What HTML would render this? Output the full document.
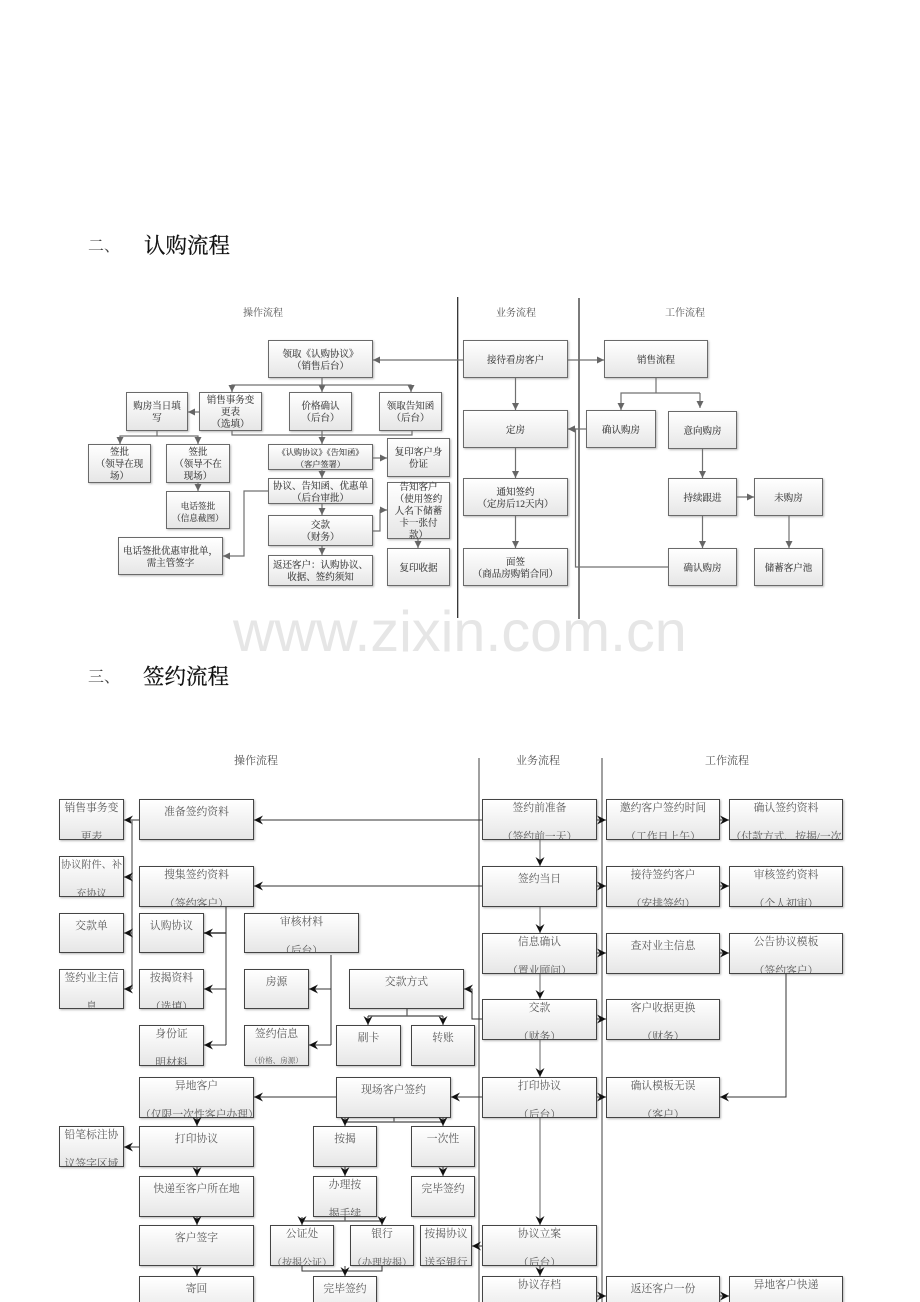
<!DOCTYPE html>
<html lang="zh">
<head>
<meta charset="utf-8">
<title>认购流程 / 签约流程</title>
<style>
html,body{margin:0;padding:0;background:#fff}
#p{position:relative;width:920px;height:1302px;overflow:hidden;background:#fff;font-family:"Liberation Serif","Noto Serif CJK SC",serif}
.a,.c{position:absolute;box-sizing:border-box;background:linear-gradient(#fff,#e6e6e6);box-shadow:1px 1px 2px rgba(0,0,0,.28);text-align:center;filter:blur(.25px)}
.a{border:1px solid #6a6a6a;display:flex;align-items:center;justify-content:center;font-size:9.5px;line-height:12px;color:#3c3c3c;white-space:nowrap;padding-top:3px;-webkit-text-stroke:.12px #3c3c3c}
.c{border:1px solid #444;overflow:hidden;font-size:10.8px;color:#5a5a5a;white-space:nowrap}
.c div{line-height:29px}
.t2{margin-top:-6.5px}
.t1{margin-top:-2.5px}
.l{position:absolute;font-size:10px;color:#555;transform:translateX(-50%);line-height:12px;white-space:nowrap}
.h{position:absolute;font-size:21.5px;line-height:26px;color:#111;white-space:nowrap;-webkit-text-stroke:.25px #111}
.h0{position:absolute;font-size:16px;line-height:26px;color:#444;white-space:nowrap}
svg{position:absolute;left:0;top:0}
#w{position:absolute;left:233px;top:597px;font-family:"Liberation Sans",sans-serif;font-size:57.5px;line-height:70px;color:#e6e6e6;white-space:nowrap}
</style>
</head>
<body>
<div id="p">
<div class="h0" style="left:88px;top:234px">二、</div>
<div class="h" style="left:144px;top:233px">认购流程</div>
<div class="h0" style="left:88px;top:665px">三、</div>
<div class="h" style="left:143px;top:664px">签约流程</div>

<div class="l" style="left:263px;top:308px">操作流程</div>
<div class="l" style="left:516px;top:308px">业务流程</div>
<div class="l" style="left:685px;top:308px">工作流程</div>
<div class="l" style="left:256px;top:755px;font-size:11px">操作流程</div>
<div class="l" style="left:538px;top:755px;font-size:11px">业务流程</div>
<div class="l" style="left:727px;top:755px;font-size:11px">工作流程</div>

<!-- section 1 boxes -->
<div class="a" style="left:268px;top:340px;width:105px;height:38px">领取《认购协议》<br>（销售后台）</div>
<div class="a" style="left:126px;top:392px;width:62px;height:39px">购房当日填<br>写</div>
<div class="a" style="left:199px;top:392px;width:63px;height:39px">销售事务变<br>更表<br>（选填）</div>
<div class="a" style="left:289px;top:392px;width:63px;height:39px">价格确认<br>（后台）</div>
<div class="a" style="left:379px;top:392px;width:63px;height:39px">领取告知函<br>（后台）</div>
<div class="a" style="left:88px;top:444px;width:63px;height:39px">签批<br>（领导在现<br>场）</div>
<div class="a" style="left:166px;top:444px;width:64px;height:39px">签批<br>（领导不在<br>现场）</div>
<div class="a" style="left:166px;top:491px;width:64px;height:38px;font-size:8.6px">电话签批<br>（信息截图）</div>
<div class="a" style="left:268px;top:444px;width:105px;height:26px;font-size:8.2px">《认购协议》《告知函》<br>（客户签署）</div>
<div class="a" style="left:268px;top:478px;width:105px;height:26px">协议、告知函、优惠单<br>（后台审批）</div>
<div class="a" style="left:268px;top:515px;width:105px;height:31px">交款<br>（财务）</div>
<div class="a" style="left:268px;top:555px;width:105px;height:31px">返还客户：认购协议、<br>收据、签约须知</div>
<div class="a" style="left:387px;top:438px;width:63px;height:39px">复印客户身<br>份证</div>
<div class="a" style="left:387px;top:482px;width:63px;height:57px">告知客户<br>（使用签约<br>人名下储蓄<br>卡一张付<br>款）</div>
<div class="a" style="left:387px;top:548px;width:63px;height:38px">复印收据</div>
<div class="a" style="left:118px;top:537px;width:105px;height:38px">电话签批优惠审批单，<br>需主管签字</div>
<div class="a" style="left:463px;top:340px;width:105px;height:38px">接待看房客户</div>
<div class="a" style="left:463px;top:410px;width:105px;height:38px">定房</div>
<div class="a" style="left:463px;top:478px;width:105px;height:38px">通知签约<br>（定房后12天内）</div>
<div class="a" style="left:463px;top:548px;width:105px;height:38px">面签<br>（商品房购销合同）</div>
<div class="a" style="left:604px;top:340px;width:104px;height:38px">销售流程</div>
<div class="a" style="left:586px;top:410px;width:70px;height:38px">确认购房</div>
<div class="a" style="left:668px;top:411px;width:69px;height:38px">意向购房</div>
<div class="a" style="left:668px;top:478px;width:69px;height:38px">持续跟进</div>
<div class="a" style="left:754px;top:478px;width:69px;height:38px">未购房</div>
<div class="a" style="left:668px;top:548px;width:69px;height:38px">确认购房</div>
<div class="a" style="left:754px;top:548px;width:69px;height:38px">储蓄客户池</div>

<!-- section 2 boxes -->
<div class="c" style="left:59px;top:799px;width:65px;height:41px"><div class="t2">销售事务变<br>更表</div></div>
<div class="c" style="left:59px;top:856px;width:65px;height:41px"><div class="t2" style="font-size:10.2px">协议附件、补<br>充协议</div></div>
<div class="c" style="left:59px;top:913px;width:65px;height:40px"><div class="t1">交款单</div></div>
<div class="c" style="left:59px;top:969px;width:65px;height:40px"><div class="t2">签约业主信<br>息</div></div>
<div class="c" style="left:139px;top:799px;width:115px;height:41px"><div class="t1">准备签约资料</div></div>
<div class="c" style="left:139px;top:866px;width:115px;height:41px"><div class="t2">搜集签约资料<br>（签约客户）</div></div>
<div class="c" style="left:139px;top:913px;width:65px;height:40px"><div class="t1">认购协议</div></div>
<div class="c" style="left:139px;top:969px;width:65px;height:40px"><div class="t2">按揭资料<br>（选填）</div></div>
<div class="c" style="left:139px;top:1025px;width:65px;height:41px"><div class="t2">身份证<br>明材料</div></div>
<div class="c" style="left:244px;top:913px;width:115px;height:40px"><div class="t2">审核材料<br>（后台）</div></div>
<div class="c" style="left:244px;top:969px;width:65px;height:40px"><div class="t1">房源</div></div>
<div class="c" style="left:244px;top:1025px;width:65px;height:41px"><div class="t2">签约信息<br><span style="font-size:7.5px;position:relative;top:-3px">（价格、房源）</span></div></div>
<div class="c" style="left:349px;top:969px;width:115px;height:40px"><div class="t1">交款方式</div></div>
<div class="c" style="left:336px;top:1025px;width:65px;height:41px"><div class="t1">刷卡</div></div>
<div class="c" style="left:411px;top:1025px;width:64px;height:41px"><div class="t1">转账</div></div>
<div class="c" style="left:139px;top:1077px;width:115px;height:41px"><div class="t2">异地客户<br>（仅限一次性客户办理）</div></div>
<div class="c" style="left:59px;top:1126px;width:65px;height:41px"><div class="t2">铅笔标注协<br>议签字区域</div></div>
<div class="c" style="left:139px;top:1126px;width:115px;height:41px"><div class="t1">打印协议</div></div>
<div class="c" style="left:139px;top:1176px;width:115px;height:41px"><div class="t1">快递至客户所在地</div></div>
<div class="c" style="left:139px;top:1225px;width:115px;height:41px"><div class="t1">客户签字</div></div>
<div class="c" style="left:139px;top:1276px;width:115px;height:41px"><div class="t1">寄回</div></div>
<div class="c" style="left:336px;top:1077px;width:115px;height:41px"><div class="t1">现场客户签约</div></div>
<div class="c" style="left:313px;top:1126px;width:64px;height:41px"><div class="t1">按揭</div></div>
<div class="c" style="left:411px;top:1126px;width:64px;height:41px"><div class="t1">一次性</div></div>
<div class="c" style="left:313px;top:1176px;width:64px;height:41px"><div class="t2">办理按<br>揭手续</div></div>
<div class="c" style="left:411px;top:1176px;width:64px;height:41px"><div class="t1">完毕签约</div></div>
<div class="c" style="left:270px;top:1225px;width:64px;height:41px"><div class="t2">公证处<br><span style="font-size:10px">（按揭公证）</span></div></div>
<div class="c" style="left:350px;top:1225px;width:64px;height:41px"><div class="t2">银行<br><span style="font-size:10px">（办理按揭）</span></div></div>
<div class="c" style="left:420px;top:1225px;width:52px;height:41px"><div class="t2">按揭协议<br>送至银行</div></div>
<div class="c" style="left:313px;top:1276px;width:64px;height:41px"><div class="t1">完毕签约</div></div>
<div class="c" style="left:482px;top:799px;width:115px;height:41px"><div class="t2">签约前准备<br>（签约前一天）</div></div>
<div class="c" style="left:482px;top:866px;width:115px;height:41px"><div class="t1">签约当日</div></div>
<div class="c" style="left:482px;top:933px;width:115px;height:41px"><div class="t2">信息确认<br>（置业顾问）</div></div>
<div class="c" style="left:482px;top:999px;width:115px;height:41px"><div class="t2">交款<br>（财务）</div></div>
<div class="c" style="left:482px;top:1077px;width:115px;height:41px"><div class="t2">打印协议<br>（后台）</div></div>
<div class="c" style="left:482px;top:1225px;width:115px;height:41px"><div class="t2">协议立案<br>（后台）</div></div>
<div class="c" style="left:482px;top:1276px;width:115px;height:41px"><div class="t2">协议存档</div></div>
<div class="c" style="left:606px;top:799px;width:114px;height:41px"><div class="t2">邀约客户签约时间<br>（工作日上午）</div></div>
<div class="c" style="left:606px;top:866px;width:114px;height:41px"><div class="t2">接待签约客户<br>（安排签约）</div></div>
<div class="c" style="left:606px;top:933px;width:114px;height:41px"><div class="t1">查对业主信息</div></div>
<div class="c" style="left:606px;top:999px;width:114px;height:41px"><div class="t2">客户收据更换<br>（财务）</div></div>
<div class="c" style="left:606px;top:1077px;width:114px;height:41px"><div class="t2">确认模板无误<br>（客户）</div></div>
<div class="c" style="left:606px;top:1276px;width:114px;height:41px"><div class="t1">返还客户一份</div></div>
<div class="c" style="left:729px;top:799px;width:114px;height:41px"><div class="t2">确认签约资料<br>（付款方式、按揭/一次</div></div>
<div class="c" style="left:729px;top:866px;width:114px;height:41px"><div class="t2">审核签约资料<br>（个人初审）</div></div>
<div class="c" style="left:729px;top:933px;width:114px;height:41px"><div class="t2">公告协议模板<br>（签约客户）</div></div>
<div class="c" style="left:729px;top:1276px;width:114px;height:41px"><div class="t2">异地客户快递</div></div>

<svg width="920" height="1302" viewBox="0 0 920 1302">
<defs>
<marker id="s" markerUnits="userSpaceOnUse" markerWidth="9" markerHeight="9" refX="7" refY="3.5" orient="auto"><path d="M0,0L7,3.5L0,7z" fill="#666"/></marker>
<marker id="k" markerUnits="userSpaceOnUse" markerWidth="11" markerHeight="11" refX="9" refY="4.5" orient="auto"><path d="M0,0L9,4.5L0,9L3,4.5z" fill="#111"/></marker>
</defs>
<!-- swimlane lines -->
<path d="M457.7 297V618M579 298V619" stroke="#222" stroke-width="1.2" fill="none"/>
<path d="M479 758V1302M602 758V1302" stroke="#808080" stroke-width="1.5" fill="none"/>
<!-- section 1 connectors -->
<g fill="none" stroke="#707070" stroke-width="1.2">
<path d="M463 360H373" marker-end="url(#s)"/>
<path d="M568 360H604" marker-end="url(#s)"/>
<path d="M515.5 378V410" marker-end="url(#s)"/>
<path d="M515.5 448V478" marker-end="url(#s)"/>
<path d="M515.5 516V548" marker-end="url(#s)"/>
<path d="M656 378V393"/>
<path d="M700 393H621V410" marker-end="url(#s)"/>
<path d="M700 393V408" marker-end="url(#s)"/>
<path d="M586 429H568" marker-end="url(#s)"/>
<path d="M668 567H575.5V429H568" marker-end="url(#s)"/>
<path d="M702.5 449V478" marker-end="url(#s)"/>
<path d="M702.5 516V548" marker-end="url(#s)"/>
<path d="M737 497H754" marker-end="url(#s)"/>
<path d="M789 516V548" marker-end="url(#s)"/>
<path d="M322 378V392" marker-end="url(#s)"/>
<path d="M322 385H232V392" marker-end="url(#s)"/>
<path d="M322 385H411V392" marker-end="url(#s)"/>
<path d="M199 412H188" marker-end="url(#s)"/>
<path d="M157 431V436"/>
<path d="M157 436H120V444" marker-end="url(#s)"/>
<path d="M157 436H198V444" marker-end="url(#s)"/>
<path d="M198 483V491" marker-end="url(#s)"/>
<path d="M232 431V435H412V431"/>
<path d="M322 431V444" marker-end="url(#s)"/>
<path d="M373 458H387" marker-end="url(#s)"/>
<path d="M322 470V478" marker-end="url(#s)"/>
<path d="M322 504V515" marker-end="url(#s)"/>
<path d="M322 546V555" marker-end="url(#s)"/>
<path d="M268 491H244V556H223" marker-end="url(#s)"/>
<path d="M373 531H380V510H387" marker-end="url(#s)"/>
<path d="M418 539V548" marker-end="url(#s)"/>
</g>
<!-- section 2 connectors -->
<g fill="none" stroke="#333" stroke-width="1">
<path d="M482 820H254" marker-end="url(#k)"/>
<path d="M482 886H254" marker-end="url(#k)"/>
<path d="M139 820H124" marker-end="url(#k)"/>
<path d="M132 820V989" stroke="#808080" stroke-width="1.5"/>
<path d="M132 877H124" marker-end="url(#k)"/>
<path d="M132 933H124" marker-end="url(#k)"/>
<path d="M132 989H124" marker-end="url(#k)"/>
<path d="M226 907V1045"/>
<path d="M226 933H204" stroke-width="1.6" marker-end="url(#k)"/>
<path d="M226 989H204" marker-end="url(#k)"/>
<path d="M226 1045H204" marker-end="url(#k)"/>
<path d="M331 955V1045"/>
<path d="M331 989H309" marker-end="url(#k)"/>
<path d="M331 1045H309" marker-end="url(#k)"/>
<path d="M482 1019H472V989H464" marker-end="url(#k)"/>
<path d="M407 1009V1016"/>
<path d="M368 1016H443" stroke="#666" stroke-width="1.4"/>
<path d="M368 1016V1025" marker-end="url(#k)"/>
<path d="M443 1016V1025" marker-end="url(#k)"/>
<path d="M540 840V866" stroke="#666" marker-end="url(#k)"/>
<path d="M540 907V933" stroke="#666" marker-end="url(#k)"/>
<path d="M540 974V999" stroke="#666" marker-end="url(#k)"/>
<path d="M540 1040V1077" stroke="#666" marker-end="url(#k)"/>
<path d="M540 1118V1225" stroke="#666" marker-end="url(#k)"/>
<path d="M540 1266V1276" marker-end="url(#k)"/>
<path d="M597 820H606" marker-end="url(#k)"/>
<path d="M597 886H606" marker-end="url(#k)"/>
<path d="M597 953H606" marker-end="url(#k)"/>
<path d="M597 1019H606" marker-end="url(#k)"/>
<path d="M597 1097H606" marker-end="url(#k)"/>
<path d="M597 1296H606" marker-end="url(#k)"/>
<path d="M720 820H729" marker-end="url(#k)"/>
<path d="M720 886H729" marker-end="url(#k)"/>
<path d="M720 953H729" marker-end="url(#k)"/>
<path d="M720 1296H729" marker-end="url(#k)"/>
<path d="M786 974V1097H720" marker-end="url(#k)"/>
<path d="M482 1097H451" marker-end="url(#k)"/>
<path d="M336 1097H254" marker-end="url(#k)"/>
<path d="M197 1118V1126" marker-end="url(#k)"/>
<path d="M197 1167V1176" marker-end="url(#k)"/>
<path d="M197 1217V1225" marker-end="url(#k)"/>
<path d="M197 1266V1276" marker-end="url(#k)"/>
<path d="M139 1147H124" marker-end="url(#k)"/>
<path d="M394 1118V1122"/>
<path d="M345 1122H443" stroke="#666" stroke-width="1.4"/>
<path d="M345 1118V1126" marker-end="url(#k)"/>
<path d="M443 1118V1126" marker-end="url(#k)"/>
<path d="M345 1167V1176" marker-end="url(#k)"/>
<path d="M443 1167V1176" marker-end="url(#k)"/>
<path d="M345 1217V1221"/>
<path d="M302 1221H382" stroke="#666" stroke-width="1.4"/>
<path d="M302 1217V1225" marker-end="url(#k)"/>
<path d="M382 1217V1225" marker-end="url(#k)"/>
<path d="M302 1266V1271H382V1266"/>
<path d="M345 1266V1276" marker-end="url(#k)"/>
<path d="M482 1246H472" marker-end="url(#k)"/>
</g>
</svg>
<div id="w">www.zixin.com.cn</div>
</div>
</body>
</html>
